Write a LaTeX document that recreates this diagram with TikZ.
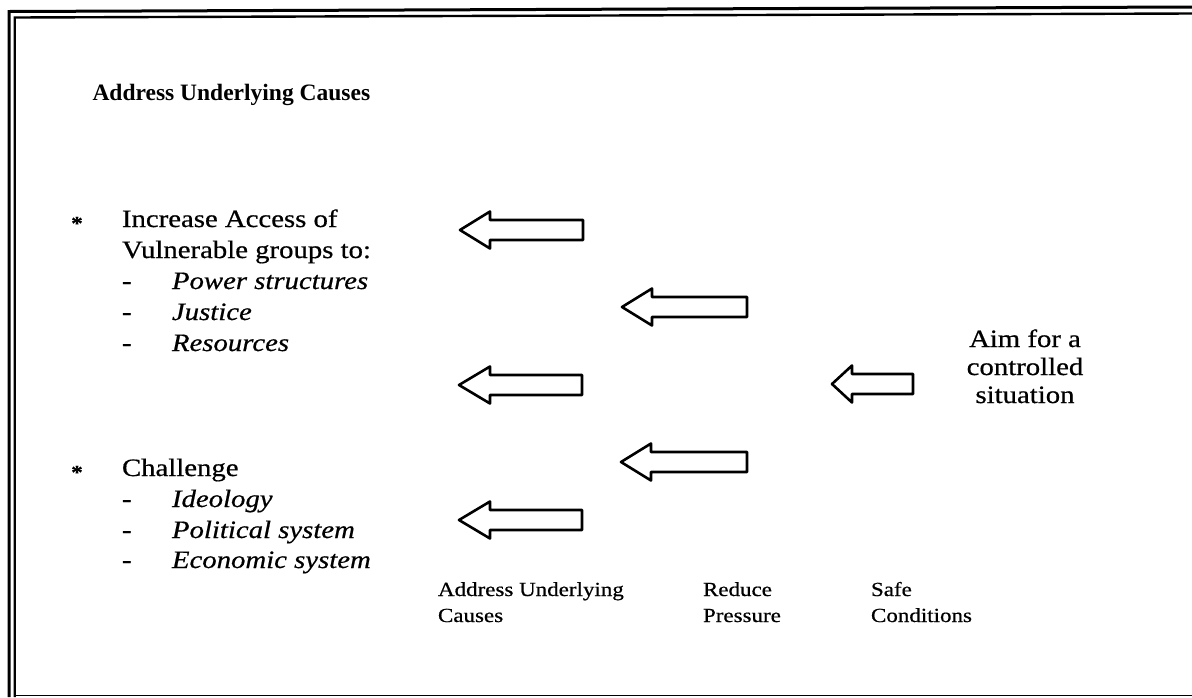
\documentclass[tikz,border=0pt]{standalone}
\usepackage{fontspec}
\setmainfont{Liberation Serif}[FakeStretch=1.15,FakeBold=0.6]
\newfontfamily\headfont{Liberation Serif}
\begin{document}
\begin{tikzpicture}[x=1pt,y=-1pt,
  every node/.style={inner sep=0pt, outer sep=0pt, anchor=base west},
  body/.style={font=\fontsize{25}{30}\selectfont},
  item/.style={font=\fontsize{25}{30}\selectfont\itshape},
  dashmark/.style={font=\fontsize{25}{30}\selectfont},
  starmark/.style={anchor=base, font=\fontsize{20}{24}\selectfont\bfseries},
  caption/.style={font=\fontsize{20}{24}\selectfont},
  aim/.style={anchor=base, font=\fontsize{25}{30}\selectfont},
  heading/.style={font=\headfont\bfseries\fontsize{23.5}{28}\selectfont},
  blockarrow/.style={draw, line width=2.6pt, line join=round, fill=white},
]
\useasboundingbox (0,0) rectangle (1192,697);

% double frame on the left and top, thin rule at the bottom
\draw[line width=3pt] (9,697) -- (9,11.5) -- (1192,7);
\draw[line width=2.4pt] (14.7,697) -- (14.7,17.5) -- (1192,13.5);
\draw[line width=1.5pt] (14.7,695.5) -- (1192,695.5);

% heading
\node[heading] (title) at (92.5,100) {Address Underlying Causes};

% first bullet
\node[starmark] (b1) at (77,230) {*};
\node[body] (inc1) at (122,227) {Increase Access of};
\node[body] (inc2) at (122,258) {Vulnerable groups to:};
\node[dashmark] (d1) at (122,289) {-};
\node[item] (i1) at (172,289) {Power structures};
\node[dashmark] (d2) at (122,320) {-};
\node[item] (i2) at (172,320) {Justice};
\node[dashmark] (d3) at (122,351) {-};
\node[item] (i3) at (172,351) {Resources};

% second bullet
\node[starmark] (b2) at (77,479) {*};
\node[body] (ch) at (122,476) {Challenge};
\node[dashmark] (d4) at (122,507) {-};
\node[item] (i4) at (172,507) {Ideology};
\node[dashmark] (d5) at (122,538) {-};
\node[item] (i5) at (172,538) {Political system};
\node[dashmark] (d6) at (122,568) {-};
\node[item] (i6) at (172,568) {Economic system};

% block arrows: tip x / tail x / centre y / head length
\foreach \tip/\tail/\yc/\hl [count=\i] in
  {460/583/230/30, 622/747/307/30, 459/582/385/31,
   832/913/384/20, 621/747/462/30, 459/582/520/31}
{
  \draw[blockarrow] (\tip,\yc) -- ({\tip+\hl},{\yc-18.5}) -- ({\tip+\hl},{\yc-10})
    -- (\tail,{\yc-10}) -- (\tail,{\yc+10}) -- ({\tip+\hl},{\yc+10})
    -- ({\tip+\hl},{\yc+18.5}) -- cycle;
  \coordinate (arrow\i) at (\tip,\yc);
}

% goal text
\node[aim] (aim1) at (1025,347) {Aim for a};
\node[aim] (aim2) at (1025,375) {controlled};
\node[aim] (aim3) at (1025,403) {situation};

% column captions
\node[caption] (c1a) at (438,596) {Address Underlying};
\node[caption] (c1b) at (438,622) {Causes};
\node[caption] (c2a) at (703,596) {Reduce};
\node[caption] (c2b) at (703,622) {Pressure};
\node[caption] (c3a) at (871,596) {Safe};
\node[caption] (c3b) at (871,622) {Conditions};
\end{tikzpicture}
\end{document}
